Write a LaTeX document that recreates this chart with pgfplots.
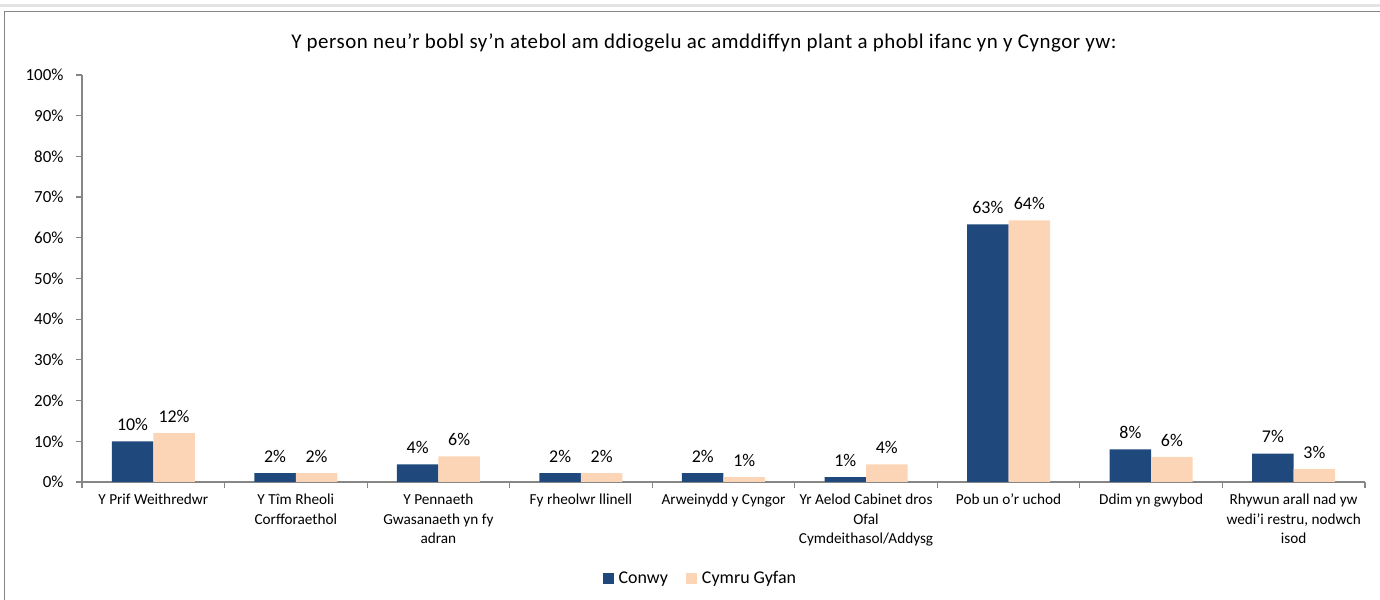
\documentclass[border=0pt]{standalone}
\usepackage{pgfplots}
\pgfplotsset{compat=1.18}
\usepackage{fontspec}
\setmainfont{Carlito}
\definecolor{conwy}{HTML}{1F497D}
\definecolor{cymru}{HTML}{FBD5B5}
\definecolor{axgray}{HTML}{868686}
\pgfplotsset{/pgfplots/ybar legend/.style={legend image code/.code={\fill[##1] (0bp,-5.5bp) rectangle (11bp,5.5bp);}}}
\begin{document}
\begin{tikzpicture}[x=1bp,y=1bp]
\useasboundingbox (0,0) rectangle (1380,600);
\fill[gray!22] (0,593) rectangle (1380,596);
\draw[axgray, line width=1.5bp] (4.5,-20) -- (4.5,588.5) -- (1400,588.5);
\node[font=\fontsize{21}{24}\selectfont\addfontfeature{LetterSpace=2.5}] at (704,557) {Y person neu’r bobl sy’n atebol am ddiogelu ac amddiffyn plant a phobl ifanc yn y Cyngor yw:};
\begin{axis}[
  at={(82bp,118bp)}, anchor=south west,
  width=1283bp, height=407bp, scale only axis,
  xmin=-0.5, xmax=8.5, ymin=0, ymax=100,
  axis x line*=bottom, axis y line*=left,
  axis line style={axgray, line width=1.2bp, -},
  ytick={0,10,...,100},
  yticklabel={\pgfmathprintnumber{\tick}\%},
  /pgf/number format/assume math mode=true,
  yticklabel style={font=\fontsize{17}{20}\selectfont, xshift=-9bp},
  major y tick style={axgray, line width=1.2bp},
  tick align=outside, major tick length=6bp, minor tick length=6bp,
  xtick={0,...,8},
  major x tick style={draw=none},
  minor xtick={-0.5,0.5,...,8.5},
  minor x tick style={axgray, line width=1.2bp},
  xticklabels={
    {Y Prif Weithredwr},
    {Y Tîm Rheoli\\Corfforaethol},
    {Y Pennaeth\\Gwasanaeth yn fy\\adran},
    {Fy rheolwr llinell},
    {Arweinydd y Cyngor},
    {Yr Aelod Cabinet dros\\Ofal\\Cymdeithasol/Addysg},
    {Pob un o’r uchod},
    {Ddim yn gwybod},
    {Rhywun arall nad yw\\wedi’i restru, nodwch\\isod}},
  xticklabel style={font=\fontsize{15.3}{20}\selectfont, align=center, anchor=north, yshift=-2bp},
  ybar=0pt, bar width=41.5bp,
  nodes near coords={\pgfplotspointmeta\%},
  point meta=explicit symbolic,
  every node near coord/.append style={font=\fontsize{18}{20}\selectfont, yshift=7bp},
  legend style={at={(0.482,-0.236)}, anchor=center, draw=none, legend columns=2,
    font=\fontsize{18}{20}\selectfont,
    /tikz/every odd column/.append style={column sep=3bp},
    /tikz/every even column/.append style={column sep=16bp}},
]
\addplot[fill=conwy, draw=none] table[meta=lab] {
x y lab
0 10.0 10
1 2.2 2
2 4.3 4
3 2.2 2
4 2.2 2
5 1.2 1
6 63.3 63
7 8.0 8
8 7.0 7
};
\addplot[fill=cymru, draw=none] table[meta=lab] {
x y lab
0 12.0 12
1 2.2 2
2 6.3 6
3 2.2 2
4 1.2 1
5 4.3 4
6 64.3 64
7 6.2 6
8 3.2 3
};
\legend{Conwy, Cymru Gyfan}
\end{axis}
\end{tikzpicture}
\end{document}
